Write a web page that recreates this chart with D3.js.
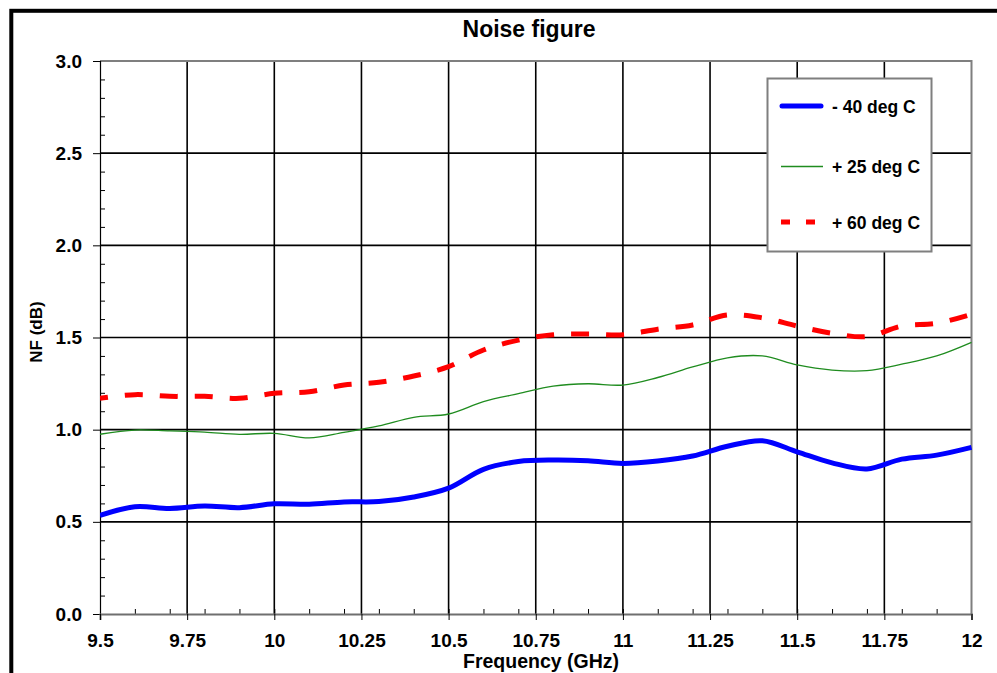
<!DOCTYPE html>
<html>
<head>
<meta charset="utf-8">
<script src="https://cdn.jsdelivr.net/npm/d3@7"></script>
<style>
  html, body { margin: 0; padding: 0; background: #fff; }
  svg { display: block; font-family: "Liberation Sans", Arial, sans-serif; }
</style>
</head>
<body>
<svg id="chart" width="997" height="673"></svg>
<script>
// ---- data ----
const frequencies = [9.5, 9.6, 9.7, 9.8, 9.9, 10.0, 10.1, 10.2, 10.3, 10.4, 10.5, 10.6, 10.7,
  10.8, 10.9, 11.0, 11.1, 11.2, 11.3, 11.4, 11.5, 11.6, 11.7, 11.8, 11.9, 12.0];
const nfMinus40 = [0.535, 0.582, 0.573, 0.586, 0.577, 0.598, 0.595, 0.608, 0.610, 0.635, 0.683, 0.785, 0.827,
  0.835, 0.831, 0.817, 0.830, 0.857, 0.910, 0.940, 0.880, 0.820, 0.787, 0.840, 0.862, 0.904];
const nfPlus25 = [0.975, 0.998, 0.993, 0.987, 0.975, 0.980, 0.955, 0.985, 1.020, 1.067, 1.085, 1.152, 1.195,
  1.236, 1.249, 1.242, 1.283, 1.340, 1.390, 1.400, 1.351, 1.323, 1.320, 1.355, 1.400, 1.474];
const nfPlus60 = [1.170, 1.190, 1.181, 1.181, 1.170, 1.197, 1.206, 1.242, 1.257, 1.291, 1.342, 1.432, 1.486,
  1.515, 1.519, 1.515, 1.545, 1.568, 1.622, 1.607, 1.562, 1.523, 1.505, 1.562, 1.577, 1.626];
const seriesNames = ["- 40 deg C", "+ 25 deg C", "+ 60 deg C"];
const xTickValues = [9.5, 9.75, 10, 10.25, 10.5, 10.75, 11, 11.25, 11.5, 11.75, 12];
const xTickLabels = ["9.5", "9.75", "10", "10.25", "10.5", "10.75", "11", "11.25", "11.5", "11.75", "12"];
const yTickValues = [0, 0.5, 1.0, 1.5, 2.0, 2.5, 3.0];
const yTickLabels = ["0.0", "0.5", "1.0", "1.5", "2.0", "2.5", "3.0"];
const xMinorTicks = [9.6, 9.7, 9.8, 9.9, 10.0, 10.1, 10.2, 10.3, 10.4, 10.5, 10.6, 10.7, 10.8, 10.9,
  11.0, 11.1, 11.2, 11.3, 11.4, 11.5, 11.6, 11.7, 11.8, 11.9];
const yMinorTicks = [0.1, 0.2, 0.3, 0.4, 0.6, 0.7, 0.8, 0.9, 1.1, 1.2, 1.3, 1.4, 1.6, 1.7, 1.8, 1.9,
  2.1, 2.2, 2.3, 2.4, 2.6, 2.7, 2.8, 2.9];
const titleText = "Noise figure";
const xTitle = "Frequency (GHz)";
const yTitle = "NF (dB)";

// ---- layout ----
const svg = d3.select("#chart");
const L = 100, R = 971.5, T = 61, B = 614;
const x = d3.scaleLinear().domain([9.5, 12]).range([L, R]);
const y = d3.scaleLinear().domain([0, 3]).range([B, T]);

// outer frame
svg.append("rect").attr("x", 11.3).attr("y", 10.8).attr("width", 1100).attr("height", 800)
  .attr("fill", "none").attr("stroke", "#000").attr("stroke-width", 4);

// title
svg.append("text").attr("x", 529).attr("y", 37).attr("text-anchor", "middle")
  .attr("font-size", 23).attr("font-weight", "bold").text(titleText);

// gridlines
const grid = svg.append("g");
grid.selectAll("line.h").data(yTickValues.filter(v => v > 0 && v < 3)).join("line")
  .attr("x1", L).attr("x2", R).attr("y1", d => y(d)).attr("y2", d => y(d))
  .attr("stroke", "#000").attr("stroke-width", 1.6);
grid.selectAll("line.v").data(xTickValues.filter(v => v > 9.5 && v < 12)).join("line")
  .attr("y1", T).attr("y2", B).attr("x1", d => x(d)).attr("x2", d => x(d))
  .attr("stroke", "#000").attr("stroke-width", 1.6);

// plot border top/right (gray)
svg.append("path").attr("d", `M${L},${T}H${R}V${B}`).attr("fill", "none")
  .attr("stroke", "#7f7f7f").attr("stroke-width", 2);

// minor ticks
const yMinor = svg.append("g").attr("transform", `translate(${L},0)`)
  .call(d3.axisRight(y).tickValues(yMinorTicks).tickSize(5).tickFormat(""));
yMinor.select(".domain").remove();
const xMinor = svg.append("g").attr("transform", `translate(0,${B})`)
  .call(d3.axisTop(x).tickValues(xMinorTicks).tickSize(5).tickFormat(""));
xMinor.select(".domain").remove();

// y axis
const yAx = svg.append("g").attr("transform", `translate(${L},0)`)
  .call(d3.axisLeft(y).tickValues(yTickValues).tickSize(7).tickPadding(11)
    .tickFormat((d, i) => yTickLabels[i]));
yAx.select(".domain").attr("stroke", "#000").attr("stroke-width", 1.2);
yAx.selectAll("text").attr("font-size", 19).attr("font-weight", "bold")
  .attr("font-family", "Liberation Sans, Arial, sans-serif").attr("fill", "#000");

// x axis
const xAx = svg.append("g").attr("transform", `translate(0,${B})`)
  .call(d3.axisBottom(x).tickValues(xTickValues).tickSize(6).tickPadding(14)
    .tickFormat((d, i) => xTickLabels[i]));
xAx.select(".domain").attr("stroke", "#6f6f6f").attr("stroke-width", 2);
xAx.selectAll("text").attr("font-size", 19).attr("font-weight", "bold")
  .attr("font-family", "Liberation Sans, Arial, sans-serif").attr("fill", "#000");

// axis titles
svg.append("text").attr("x", 541).attr("y", 668).attr("text-anchor", "middle")
  .attr("font-size", 19.5).attr("font-weight", "bold").text(xTitle);
svg.append("text").attr("transform", "translate(42,332) rotate(-90)").attr("text-anchor", "middle")
  .attr("font-size", 17).attr("font-weight", "bold").text(yTitle);

// lines
const line = d3.line().x((d, i) => x(frequencies[i])).y(d => y(d)).curve(d3.curveCatmullRom.alpha(0.5));
const clip = svg.append("clipPath").attr("id", "clip").append("rect")
  .attr("x", L).attr("y", T).attr("width", R - L + 2).attr("height", B - T);
const lines = svg.append("g").attr("clip-path", "url(#clip)");
lines.append("path").datum(nfPlus25).attr("d", line).attr("fill", "none")
  .attr("stroke", "#1f8c1f").attr("stroke-width", 1.3);
lines.append("path").datum(nfPlus60).attr("d", line).attr("fill", "none")
  .attr("stroke", "#ff0000").attr("stroke-width", 5).attr("stroke-dasharray", "18 17")
  .attr("stroke-dashoffset", 10);
lines.append("path").datum(nfMinus40).attr("d", line).attr("fill", "none")
  .attr("stroke", "#0000ff").attr("stroke-width", 5).attr("stroke-linejoin", "round");

// legend
const lg = svg.append("g");
lg.append("rect").attr("x", 767.5).attr("y", 78.5).attr("width", 164).attr("height", 173)
  .attr("fill", "#fff").attr("stroke", "#7f7f7f").attr("stroke-width", 2);
const legendStyles = [
  { color: "#0000ff", width: 5, dash: null, cap: "round", yy: 106 },
  { color: "#1f8c1f", width: 1.3, dash: null, cap: "butt", yy: 166.5 },
  { color: "#ff0000", width: 5, dash: "9 16", cap: "butt", yy: 222 }
];
seriesNames.forEach((name, i) => {
  const s = legendStyles[i];
  const ln = lg.append("line").attr("x1", s.cap === "round" ? 782 : 781).attr("x2", s.cap === "round" ? 821 : 823)
    .attr("y1", s.yy).attr("y2", s.yy).attr("stroke", s.color).attr("stroke-width", s.width)
    .attr("stroke-linecap", s.cap);
  if (s.dash) ln.attr("stroke-dasharray", s.dash);
  lg.append("text").attr("x", 832).attr("y", s.yy + 6.5).attr("font-size", 17.5)
    .attr("font-weight", "bold").text(name);
});
</script>
</body>
</html>
